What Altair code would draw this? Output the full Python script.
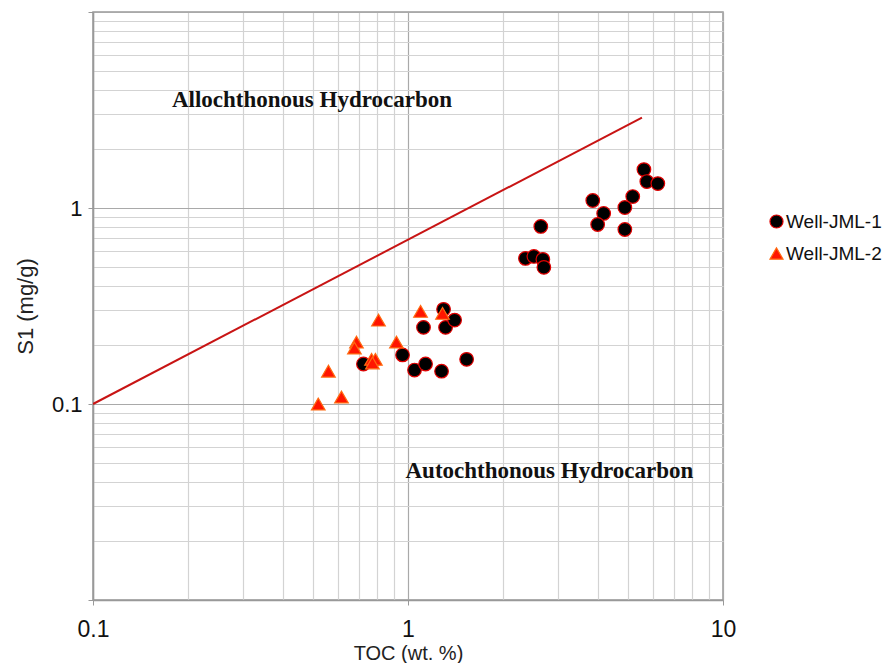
import altair as alt
import pandas as pd

# ---- data ----
well1_toc = [0.722, 0.961, 1.049, 1.137, 1.278, 1.535, 1.120, 1.316, 1.297, 1.406,
             5.61, 5.73, 6.21, 5.17, 4.88, 4.88, 3.86, 4.18, 4.00, 2.64,
             2.36, 2.51, 2.68, 2.70]
well1_s1 = [0.160, 0.178, 0.149, 0.160, 0.147, 0.169, 0.246, 0.246, 0.304, 0.268,
            1.570, 1.364, 1.332, 1.144, 1.006, 0.777, 1.092, 0.938, 0.824, 0.805,
            0.553, 0.566, 0.547, 0.498]
well2_toc = [0.519, 0.615, 0.559, 0.686, 0.676, 0.806, 0.766, 0.788, 0.771, 0.919,
             1.096, 1.287]
well2_s1 = [0.100, 0.1085, 0.147, 0.207, 0.193, 0.268, 0.169, 0.169, 0.162, 0.207,
            0.297, 0.290]
series_names = ["Well-JML-1", "Well-JML-2"]

line_toc = [0.1, 5.53]
line_s1 = [0.1, 2.89]

label_texts = ["Allochthonous Hydrocarbon", "Autochthonous Hydrocarbon"]
label_toc = [0.178, 0.982]
label_s1 = [3.57, 0.0456]

x_grid = [0.1, 0.2, 0.3, 0.4, 0.5, 0.6, 0.7, 0.8, 0.9,
          1, 2, 3, 4, 5, 6, 7, 8, 9, 10]
y_grid = [0.01, 0.02, 0.03, 0.04, 0.05, 0.06, 0.07, 0.08, 0.09,
          0.1, 0.2, 0.3, 0.4, 0.5, 0.6, 0.7, 0.8, 0.9,
          1, 2, 3, 4, 5, 6, 7, 8, 9, 10]

# ---- tables ----
pts = pd.DataFrame({
    "toc": well1_toc + well2_toc,
    "s1": well1_s1 + well2_s1,
    "well": [series_names[0]] * len(well1_toc) + [series_names[1]] * len(well2_toc),
})
line_df = pd.DataFrame({"toc": line_toc, "s1": line_s1})
lab_df = pd.DataFrame({"toc": label_toc, "s1": label_s1, "text": label_texts})

major = "indexof([0.01,0.1,1,10], datum.value) >= 0"

x_scale = alt.Scale(type="log", domain=[0.1, 10], nice=False)
y_scale = alt.Scale(type="log", domain=[0.01, 10], nice=False)

x_axis = alt.Axis(
    values=x_grid,
    title="TOC (wt. %)",
    titleFont="Liberation Sans", titleFontSize=20, titleFontWeight="normal",
    titleColor="#222", titlePadding=2,
    labelFont="Liberation Sans", labelFontSize=23, labelColor="#111",
    labelExpr="indexof([0.1,1,10], datum.value) >= 0 ? format(datum.value, '~g') : ''",
    labelOverlap=False, labelFlush=False, labelPadding=13,
    grid=True,
    gridColor={"condition": {"test": major, "value": "#a9a9a9"}, "value": "#d3d3d3"},
    gridWidth=1.2,
    tickOpacity={"condition": {"test": major, "value": 1}, "value": 0},
    tickColor="#999", tickSize=5,
    domainColor="#999", domainWidth=1.5,
)
y_axis = alt.Axis(
    values=y_grid,
    title="S1 (mg/g)",
    titleFont="Liberation Sans", titleFontSize=22, titleFontWeight="normal",
    titleColor="#222", titlePadding=14,
    labelFont="Liberation Sans", labelFontSize=22, labelColor="#111",
    labelExpr="indexof([0.1,1], datum.value) >= 0 ? format(datum.value, '~g') : ''",
    labelOverlap=False, labelFlush=False, labelPadding=6,
    grid=True,
    gridColor={"condition": {"test": major, "value": "#a9a9a9"}, "value": "#d3d3d3"},
    gridWidth=1.2,
    tickOpacity={"condition": {"test": major, "value": 1}, "value": 0},
    tickColor="#999", tickSize=5,
    domainColor="#999", domainWidth=1.5,
)

line = alt.Chart(line_df).mark_line(color="#c81414", strokeWidth=2, clip=True).encode(
    x=alt.X("toc:Q", scale=x_scale, axis=x_axis),
    y=alt.Y("s1:Q", scale=y_scale, axis=y_axis),
)

legend = alt.Legend(
    title=None, orient="none", legendX=674, legendY=200,
    labelFont="Liberation Sans", labelFontSize=19, labelColor="#111",
    symbolSize=170, symbolStrokeWidth=1.2, rowPadding=12, labelOffset=0,
)

points = alt.Chart(pts).mark_point(filled=True, size=185, opacity=1, strokeWidth=1.2).encode(
    x=alt.X("toc:Q", scale=x_scale),
    y=alt.Y("s1:Q", scale=y_scale),
    shape=alt.Shape("well:N", scale=alt.Scale(domain=series_names, range=["circle", "triangle-up"]), legend=legend),
    fill=alt.Fill("well:N", scale=alt.Scale(domain=series_names, range=["#000000", "#ff1500"]), legend=legend),
    stroke=alt.Stroke("well:N", scale=alt.Scale(domain=series_names, range=["#e00000", "#ff6a10"]), legend=legend),
)

labels = alt.Chart(lab_df).mark_text(
    align="left", baseline="middle", font="Liberation Serif", fontWeight="bold",
    fontSize=23, color="#111",
).encode(
    x=alt.X("toc:Q", scale=x_scale),
    y=alt.Y("s1:Q", scale=y_scale),
    text="text:N",
)

chart = alt.layer(line, points, labels).properties(
    width=630, height=588,
    autosize=alt.AutoSizeParams(type="none"),
    padding={"left": 85, "top": 4, "right": 160, "bottom": 63},
).configure_view(stroke="#999", strokeWidth=1.5)

chart.save("out.html", embed_options={"renderer": "svg", "actions": False})
